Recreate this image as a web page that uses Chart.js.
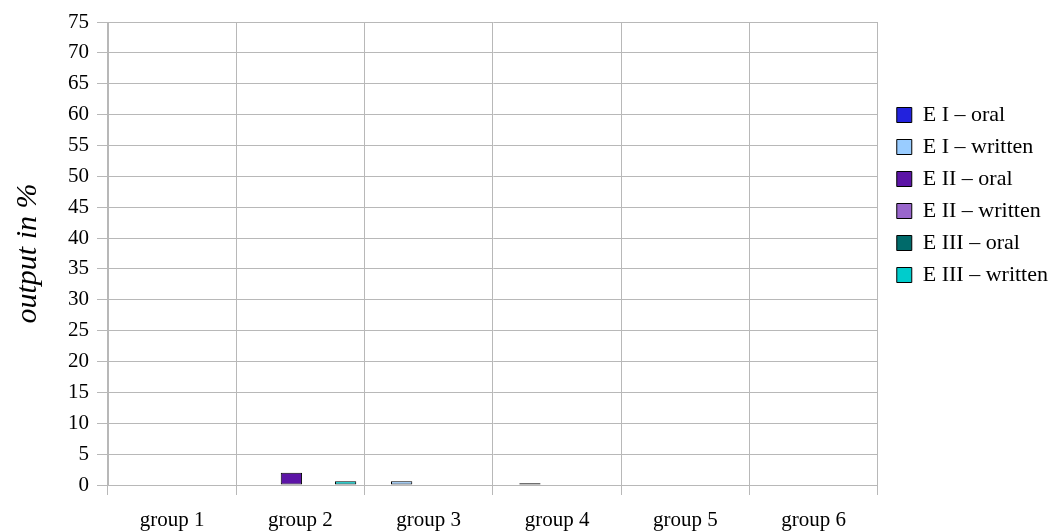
<!DOCTYPE html>
<html>
<head>
<meta charset="utf-8">
<script src="https://cdn.jsdelivr.net/npm/chart.js@4.4.1/dist/chart.umd.min.js"></script>
<style>
  html, body { margin: 0; padding: 0; background: #ffffff; }
  #wrap { width: 1053px; height: 531px; }
</style>
</head>
<body>
<div id="wrap"><canvas id="chart" width="1053" height="531"></canvas></div>
<script>
// Groups on the x axis
const groups = ['group 1', 'group 2', 'group 3', 'group 4', 'group 5', 'group 6'];

// Output in % per series
const eIOral       = [0, 0,   0,   0,   0, 0];
const eIWritten    = [0, 0,   0.6, 0.3, 0, 0];
const eIIOral      = [0, 2,   0,   0,   0, 0];
const eIIWritten   = [0, 0,   0,   0,   0, 0];
const eIIIOral     = [0, 0,   0,   0,   0, 0];
const eIIIWritten  = [0, 0.6, 0,   0,   0, 0];

const seriesNames  = ['E I – oral', 'E I – written', 'E II – oral', 'E II – written', 'E III – oral', 'E III – written'];
const seriesValues = [eIOral, eIWritten, eIIOral, eIIWritten, eIIIOral, eIIIWritten];
const seriesColors = ['#2222dd', '#99ccff', '#5c14a6', '#9966cc', '#006a6a', '#00cccc'];

// y axis range
const yMin = 0;
const yMax = 75;
const yStep = 5;

const serif = "'Liberation Serif', 'Times New Roman', serif";
const gridGray = '#b8b8b8';

// Moves the legend column a little right of the plot and down to its place
const legendPlacement = {
  id: 'legendPlacement',
  afterLayout(chart) {
    const lg = chart.legend;
    if (!lg) return;
    const dx = chart.chartArea.right + 9 - lg.left;
    const dy = chart.chartArea.top + 72 - lg.top;
    lg.left += dx; lg.right += dx;
    lg.top += dy; lg.bottom += dy;
  }
};

new Chart(document.getElementById('chart'), {
  type: 'bar',
  data: {
    labels: groups,
    datasets: seriesNames.map((name, i) => ({
      label: name,
      data: seriesValues[i],
      backgroundColor: seriesColors[i],
      borderColor: '#000000',
      borderWidth: 1,
      borderSkipped: false,
      categoryPercentage: 0.845,
      barPercentage: 1.18
    }))
  },
  options: {
    responsive: false,
    animation: false,
    layout: { padding: { top: 22, right: 4, bottom: -15, left: 2 } },
    plugins: {
      tooltip: { enabled: false },
      legend: {
        position: 'right',
        align: 'start',
        labels: {
          font: { family: serif, size: 22 },
          color: '#000000',
          boxWidth: 15,
          boxHeight: 15,
          padding: 10
        }
      }
    },
    scales: {
      x: {
        grid: { color: gridGray, offset: true, tickLength: 10, lineWidth: 1 },
        border: { color: gridGray },
        ticks: {
          font: { family: serif, size: 21, lineHeight: 1 },
          color: '#000000',
          padding: 15,
          maxRotation: 0
        }
      },
      y: {
        min: yMin,
        max: yMax,
        grid: { color: gridGray, tickLength: 11, lineWidth: 1 },
        border: { color: gridGray },
        ticks: {
          stepSize: yStep,
          font: { family: serif, size: 21 },
          color: '#000000',
          padding: 8
        },
        title: {
          display: true,
          text: 'output in %',
          font: { family: serif, size: 30, style: 'italic' },
          color: '#000000',
          padding: { top: 8, bottom: 14 }
        }
      }
    }
  },
  plugins: [legendPlacement]
});
</script>
</body>
</html>
